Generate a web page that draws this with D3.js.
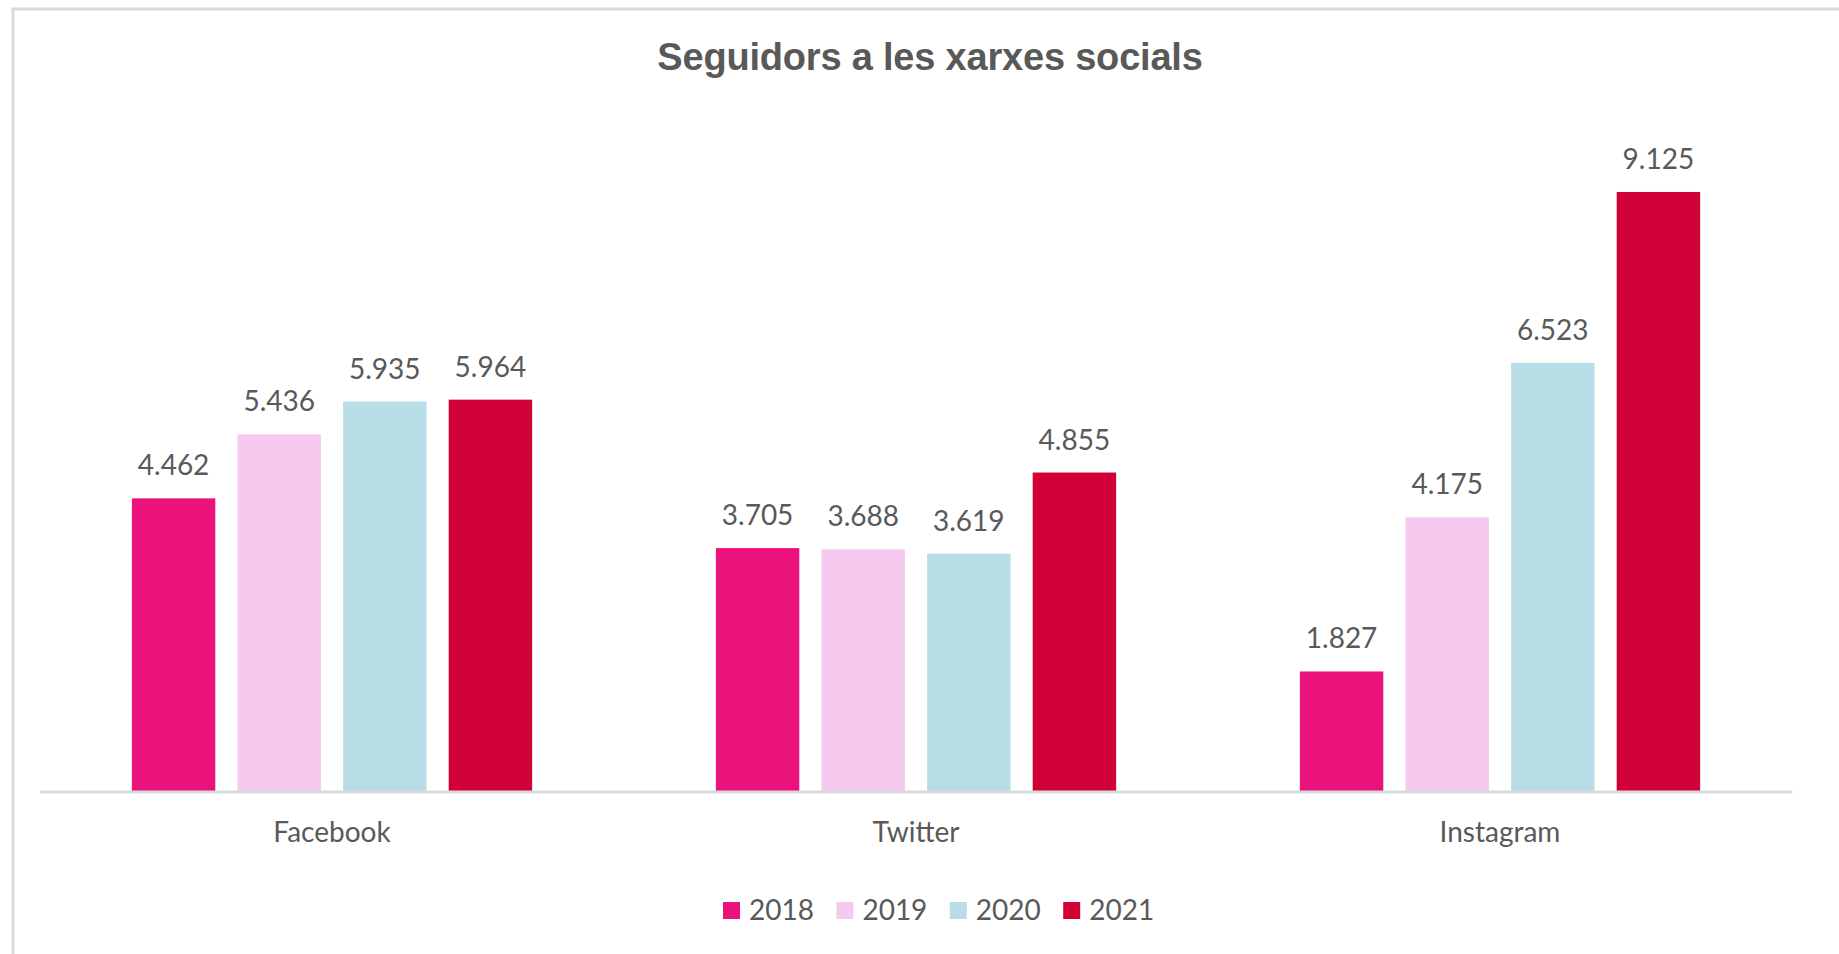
<!DOCTYPE html>
<html>
<head>
<meta charset="utf-8">
<style>
  body { margin: 0; background: #fff; }
  svg { display: block; }
  .title { font-family: "Liberation Sans", Arial, sans-serif; font-weight: bold; font-size: 38px; fill: #595959; letter-spacing: -0.2px; }
  .lbl { font-family: Lato, "Open Sans", sans-serif; font-size: 28px; fill: #595959; }
</style>
</head>
<body>
<div id="chart"></div>
<script src="https://d3js.org/d3.v7.min.js"></script>
<script>
  // data
  const networks = ['Facebook', 'Twitter', 'Instagram'];
  const years = ['2018', '2019', '2020', '2021'];
  const followers2018 = [4462, 3705, 1827];
  const followers2019 = [5436, 3688, 4175];
  const followers2020 = [5935, 3619, 6523];
  const followers2021 = [5964, 4855, 9125];
  const seriesValues = [followers2018, followers2019, followers2020, followers2021];
  const yearColors = ['#EB137B', '#F6CAEF', '#B7DDE7', '#D10036'];

  const width = 1839;
  const height = 954;
  const axisY = 791.5;

  const svg = d3.select('#chart')
    .append('svg')
    .attr('width', width)
    .attr('height', height);

  // chart frame (only top and left edges visible)
  svg.append('path')
    .attr('d', `M13,${height} V9 H${width}`)
    .attr('fill', 'none')
    .attr('stroke', '#D9D9D9')
    .attr('stroke-width', 3);

  svg.append('text')
    .attr('class', 'title')
    .attr('x', 930)
    .attr('y', 70)
    .attr('text-anchor', 'middle')
    .text('Seguidors a les xarxes socials');

  const x0 = d3.scaleBand()
    .domain(networks)
    .range([40, 1792])
    .paddingInner(0)
    .paddingOuter(0);

  const x1 = d3.scaleBand()
    .domain(years)
    .range([0, x0.bandwidth()])
    .paddingInner(0.21)
    .paddingOuter(0.87);

  const y = d3.scaleLinear()
    .domain([0, 10000])
    .range([axisY, axisY - 657]);

  const fmt = d3.formatLocale({ decimal: ',', thousands: '.', grouping: [3], currency: ['', '€'] }).format(',d');

  const rows = [];
  years.forEach((yr, i) => {
    networks.forEach((n, j) => {
      rows.push({ year: yr, net: n, value: seriesValues[i][j], color: yearColors[i] });
    });
  });

  svg.append('g')
    .selectAll('rect')
    .data(rows)
    .join('rect')
    .attr('x', d => x0(d.net) + x1(d.year))
    .attr('y', d => y(d.value))
    .attr('width', x1.bandwidth())
    .attr('height', d => axisY - y(d.value))
    .attr('fill', d => d.color);

  svg.append('g')
    .selectAll('text')
    .data(rows)
    .join('text')
    .attr('class', 'lbl')
    .attr('x', d => x0(d.net) + x1(d.year) + x1.bandwidth() / 2)
    .attr('y', d => y(d.value) - 23)
    .attr('text-anchor', 'middle')
    .text(d => fmt(d.value));

  // category axis
  const xAxis = svg.append('g')
    .attr('transform', `translate(0, ${axisY})`)
    .call(d3.axisBottom(x0).tickSize(0).tickPadding(0));
  xAxis.select('.domain')
    .attr('stroke', '#D9D9D9')
    .attr('stroke-width', 3);
  xAxis.selectAll('.tick text')
    .attr('class', 'lbl')
    .attr('dy', null)
    .attr('y', 50)
    .attr('fill', null);

  // legend
  const legend = svg.append('g')
    .selectAll('g')
    .data(years)
    .join('g')
    .attr('transform', (d, i) => `translate(${723 + i * 113.4}, 902)`);
  legend.append('rect')
    .attr('width', 17)
    .attr('height', 17)
    .attr('fill', (d, i) => yearColors[i]);
  legend.append('text')
    .attr('class', 'lbl')
    .attr('x', 26)
    .attr('y', 18)
    .text(d => d);
</script>
</body>
</html>
